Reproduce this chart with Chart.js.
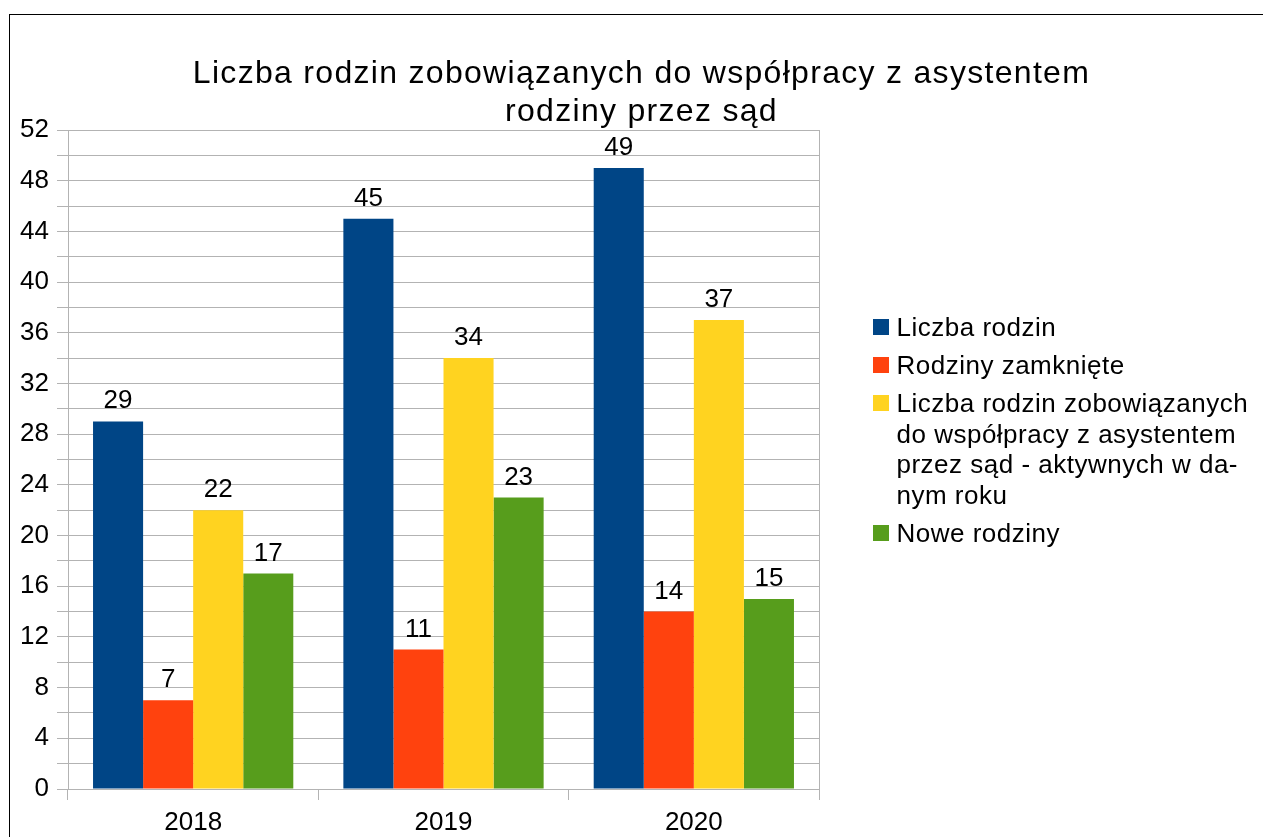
<!DOCTYPE html>
<html lang="pl">
<head>
<meta charset="utf-8">
<title>Liczba rodzin zobowiązanych do współpracy z asystentem rodziny przez sąd</title>
<script src="https://cdn.jsdelivr.net/npm/chart.js@4"></script>
<style>
  body { margin: 0; background: #fff; overflow: hidden; font-family: "Liberation Sans", Arial, sans-serif; color: #000; }
  #frame { position: absolute; left: 9px; top: 14px; width: 1300px; height: 900px; border-left: 1px solid #000; border-top: 1px solid #000; }
  #chartCanvas { position: absolute; left: 0; top: 0; }
  #title { position: absolute; left: 0; top: 53px; width: 1283px; text-align: center; font-size: 32px; line-height: 38px; letter-spacing: 1.3px; }
  #legend { position: absolute; left: 873px; top: 312px; font-size: 26px; line-height: 30.5px; letter-spacing: 0.5px; }
  .entry { position: relative; padding-left: 23.5px; margin-bottom: 7.5px; white-space: nowrap; }
  .entry .box { position: absolute; left: 0; top: 7px; width: 16px; height: 16px; }
</style>
</head>
<body>
<div id="frame"></div>
<canvas id="chartCanvas" width="1263" height="837"></canvas>
<div id="title"></div>
<div id="legend"></div>
<script>
const titleLines = ["Liczba rodzin zobowiązanych do współpracy z asystentem", "rodziny przez sąd"];
const years = ["2018", "2019", "2020"];
const liczbaRodzin = [29, 45, 49];
const rodzinyZamkniete = [7, 11, 14];
const aktywneWRoku = [22, 34, 37];
const noweRodziny = [17, 23, 15];
const seriesNames = [
  "Liczba rodzin",
  "Rodziny zamknięte",
  "Liczba rodzin zobowiązanych do współpracy z asystentem przez sąd - aktywnych w danym roku",
  "Nowe rodziny"
];
// legend text as it is wrapped in the picture
const legendLines = [
  ["Liczba rodzin"],
  ["Rodziny zamknięte"],
  ["Liczba rodzin zobowiązanych", "do współpracy z asystentem", "przez sąd - aktywnych w da-", "nym roku"],
  ["Nowe rodziny"]
];
const seriesColors = ["#004586", "#ff420e", "#ffd320", "#579d1c"];
const yMax = 52;
const yStep = 2;
const yLabelStep = 4;

document.getElementById("title").innerHTML = titleLines.join("<br>");

const legend = document.getElementById("legend");
legendLines.forEach((lines, i) => {
  const entry = document.createElement("div");
  entry.className = "entry";
  const box = document.createElement("span");
  box.className = "box";
  box.style.background = seriesColors[i];
  entry.appendChild(box);
  lines.forEach((line, j) => {
    if (j > 0) entry.appendChild(document.createElement("br"));
    entry.appendChild(document.createTextNode(line));
  });
  legend.appendChild(entry);
});

const valueLabels = {
  id: "valueLabels",
  afterDatasetsDraw(chart) {
    const ctx = chart.ctx;
    ctx.save();
    ctx.font = '26px "Liberation Sans", Arial, sans-serif';
    ctx.fillStyle = "#000";
    ctx.textAlign = "center";
    ctx.textBaseline = "alphabetic";
    chart.data.datasets.forEach((ds, i) => {
      chart.getDatasetMeta(i).data.forEach((bar, j) => {
        ctx.fillText(ds.data[j], bar.x, bar.y - 13);
      });
    });
    ctx.restore();
  }
};

const gridGray = "#b3b3b3";
const tickFont = { family: '"Liberation Sans", Arial, sans-serif', size: 26 };

new Chart(document.getElementById("chartCanvas").getContext("2d"), {
  type: "bar",
  data: {
    labels: years,
    datasets: [liczbaRodzin, rodzinyZamkniete, aktywneWRoku, noweRodziny].map((values, i) => ({
      label: seriesNames[i],
      data: values,
      backgroundColor: seriesColors[i],
      borderWidth: 0,
      categoryPercentage: 0.8,
      barPercentage: 1.0
    }))
  },
  options: {
    responsive: false,
    animation: false,
    layout: { padding: { left: 10, right: 444, top: 130, bottom: 0 } },
    plugins: {
      legend: { display: false },
      title: { display: false },
      tooltip: { enabled: false }
    },
    scales: {
      x: {
        grid: { offset: true, drawOnChartArea: false, color: gridGray, tickLength: 11 },
        border: { color: gridGray },
        ticks: { font: tickFont, color: "#000", padding: 7 },
        afterFit(scale) { scale.height = 48; }
      },
      y: {
        min: 0,
        max: yMax,
        grid: { color: gridGray, tickLength: 11 },
        border: { color: gridGray },
        ticks: {
          stepSize: yStep,
          autoSkip: false,
          font: tickFont,
          color: "#000",
          padding: 8,
          callback: v => (v % yLabelStep === 0 ? v : "")
        },
        afterFit(scale) { scale.width = 58; }
      },
      yRight: {
        position: "right",
        min: 0,
        max: yMax,
        grid: { display: false },
        border: { color: gridGray },
        ticks: { display: false },
        afterFit(scale) { scale.width = 0; }
      }
    }
  },
  plugins: [valueLabels]
});
</script>
</body>
</html>
